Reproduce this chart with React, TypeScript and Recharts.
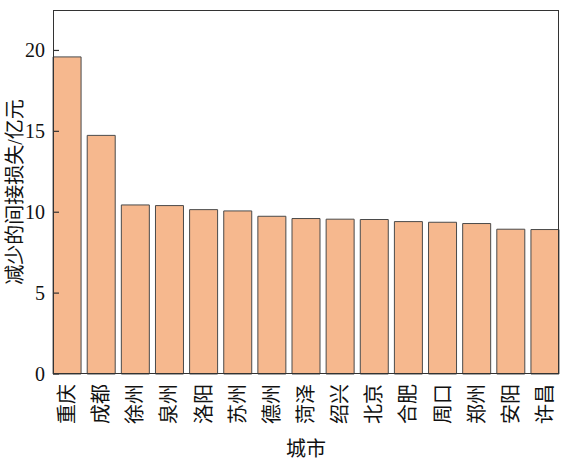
import React from 'react';
import { BarChart, Bar, XAxis, YAxis, Label } from 'recharts';

const cities = ['重庆', '成都', '徐州', '泉州', '洛阳', '苏州', '德州', '菏泽', '绍兴', '北京', '合肥', '周口', '郑州', '安阳', '许昌'];
const losses = [19.6, 14.75, 10.45, 10.41, 10.16, 10.08, 9.75, 9.61, 9.57, 9.55, 9.42, 9.38, 9.3, 8.95, 8.93];
const yTicks = [0, 5, 10, 15, 20];

const data = cities.map((city, i) => ({ city, loss: losses[i] }));

const FONT = '"Liberation Serif", "Noto Sans CJK SC", serif';

const CityTick = ({ x, y, payload }: any) => (
  <text
    x={x}
    y={y}
    transform={`rotate(-90, ${x}, ${y})`}
    textAnchor="end"
    dominantBaseline="central"
    fontSize={20}
    fontFamily={FONT}
    fill="#111"
  >
    {payload.value}
  </text>
);

const ValueTick = ({ x, y, payload }: any) => (
  <g>
    <line x1={x + 8} x2={x + 14} y1={y} y2={y} stroke="#333" strokeWidth={1.2} />
    <text x={x} y={y} textAnchor="end" dominantBaseline="central" fontSize={20} fontFamily={FONT} fill="#111">
      {payload.value}
    </text>
  </g>
);

export default function App() {
  return (
    <div style={{ position: 'absolute', left: 0, top: 0, width: 567, height: 465, background: '#fff' }}>
      <BarChart
        width={567}
        height={465}
        data={data}
        margin={{ top: 10, right: 5, left: 8, bottom: 8 }}
        barCategoryGap="9%"
      >
        <XAxis
          dataKey="city"
          interval={0}
          tickLine={false}
          axisLine={false}
          tick={<CityTick />}
          tickMargin={4}
          height={83}
        >
          <Label value="城市" position="insideBottom" offset={1} fontSize={20} fontFamily={FONT} fill="#111" />
        </XAxis>
        <YAxis
          domain={[0, 22.5]}
          ticks={yTicks}
          width={42}
          tickLine={false}
          tickMargin={-1}
          tick={<ValueTick />}
          axisLine={false}
        >
          <Label value="减少的间接损失/亿元" angle={-90} position="insideLeft" offset={7} fontSize={20} fontFamily={FONT} fill="#111" style={{ textAnchor: 'middle' }} />
        </YAxis>
        <Bar dataKey="loss" fill="#F6B88E" stroke="#4a4a4a" strokeWidth={1} isAnimationActive={false} />
      </BarChart>
      {/* plot frame */}
      <div
        style={{
          position: 'absolute',
          left: 53,
          top: 10,
          width: 506,
          height: 364,
          border: '1.3px solid #333',
          boxSizing: 'border-box',
          pointerEvents: 'none',
        }}
      />
    </div>
  );
}
